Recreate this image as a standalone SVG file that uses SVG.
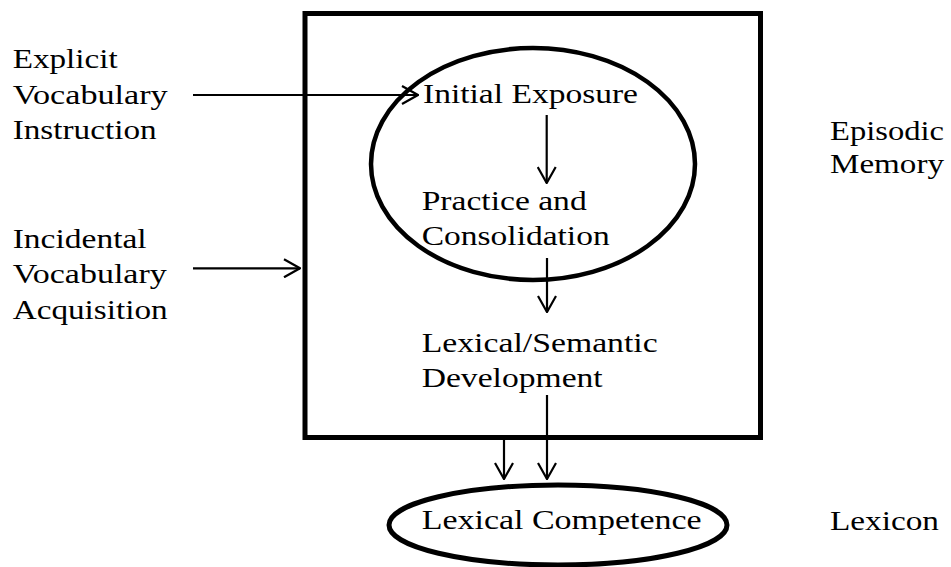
<svg xmlns="http://www.w3.org/2000/svg" width="951" height="567" viewBox="0 0 951 567">
<defs>
<marker id="arr" markerUnits="userSpaceOnUse" viewBox="0 0 18 20" refX="17" refY="10" markerWidth="18" markerHeight="20" orient="auto">
<path d="M1,1 L17,10 L1,19" fill="none" stroke="#000" stroke-width="2.2"/>
</marker>
</defs>
<style>
.t{font-family:'Times New Roman',Times,'Liberation Serif',Tinos,serif;font-size:28px;fill:#000}
.shape{fill:none;stroke:#000}
.conn line{stroke:#000;stroke-width:2.2;marker-end:url(#arr)}
</style>
<rect width="951" height="567" fill="#fff"/>
<g id="box"><rect class="shape" x="305" y="13.5" width="455.5" height="424" stroke-width="5"/></g>
<g id="episodic-ellipse"><ellipse class="shape" cx="533" cy="164" rx="162" ry="116" stroke-width="4.5"/></g>
<g id="lexical-competence" class="t"><ellipse class="shape" cx="558" cy="525" rx="169" ry="40" stroke-width="5"/>
<text x="421.7" y="529.3" textLength="280" lengthAdjust="spacingAndGlyphs">Lexical Competence</text></g>
<g id="explicit" class="t">
<text x="12.7" y="68.3" textLength="105" lengthAdjust="spacingAndGlyphs">Explicit</text>
<text x="12.7" y="103.5" textLength="155" lengthAdjust="spacingAndGlyphs">Vocabulary</text>
<text x="12.7" y="139" textLength="144" lengthAdjust="spacingAndGlyphs">Instruction</text>
</g>
<g id="incidental" class="t">
<text x="12.7" y="248.3" textLength="134" lengthAdjust="spacingAndGlyphs">Incidental</text>
<text x="12.7" y="283.3" textLength="154" lengthAdjust="spacingAndGlyphs">Vocabulary</text>
<text x="12.7" y="318.5" textLength="155" lengthAdjust="spacingAndGlyphs">Acquisition</text>
</g>
<g id="initial-exposure" class="t"><text x="423" y="103.3" textLength="215" lengthAdjust="spacingAndGlyphs">Initial Exposure</text></g>
<g id="practice" class="t">
<text x="421.7" y="210" textLength="165" lengthAdjust="spacingAndGlyphs">Practice and</text>
<text x="421.7" y="245" textLength="188" lengthAdjust="spacingAndGlyphs">Consolidation</text>
</g>
<g id="lexical-semantic" class="t">
<text x="421.7" y="351.7" textLength="236" lengthAdjust="spacingAndGlyphs">Lexical/Semantic</text>
<text x="421.7" y="387.3" textLength="181" lengthAdjust="spacingAndGlyphs">Development</text>
</g>
<g id="episodic-label" class="t">
<text x="830" y="140" textLength="114" lengthAdjust="spacingAndGlyphs">Episodic</text>
<text x="830" y="172.5" textLength="114" lengthAdjust="spacingAndGlyphs">Memory</text>
</g>
<g id="lexicon-label" class="t"><text x="830" y="530" textLength="109" lengthAdjust="spacingAndGlyphs">Lexicon</text></g>
<g id="connectors" class="conn">
<line x1="193" y1="95" x2="418" y2="95"/>
<line x1="193" y1="268.3" x2="300" y2="268.3"/>
<line x1="546.7" y1="115" x2="546.7" y2="183"/>
<line x1="547" y1="258" x2="547" y2="312"/>
<line x1="547" y1="395" x2="547" y2="479"/>
<line x1="504" y1="440" x2="504" y2="479"/>
</g>
</svg>
